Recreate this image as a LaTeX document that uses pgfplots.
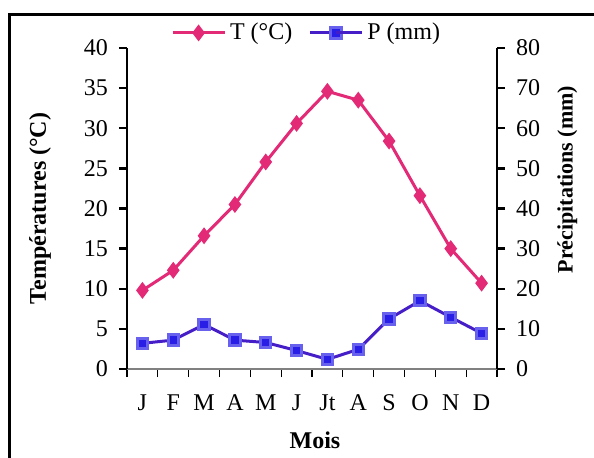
\documentclass[border=0pt]{standalone}
\usepackage{pgfplots}
\pgfplotsset{compat=1.18}
\usepackage{fontspec}
\setmainfont{Liberation Serif}
\definecolor{tcol}{RGB}{226,42,118}
\definecolor{pcol}{RGB}{70,30,200}
\definecolor{pmark}{RGB}{40,30,230}
\pgfplotstableread{
m T P
1 9.8 6.4
2 12.3 7.2
3 16.6 11.1
4 20.5 7.2
5 25.8 6.6
6 30.6 4.6
7 34.6 2.4
8 33.5 4.9
9 28.4 12.5
10 21.6 17.0
11 15.0 12.9
12 10.7 8.9
}\data
\begin{document}
\begin{tikzpicture}
\useasboundingbox (0,0) rectangle (297pt,228.5pt);
\draw[line width=1.5pt] (4.8pt,-2pt) -- (4.8pt,221.5pt) -- (300pt,221.5pt);
\pgfplotsset{
  every axis/.append style={
    at={(63.5pt,44pt)}, anchor=south west,
    scale only axis, width=185pt, height=160.5pt,
    xmin=0.5, xmax=12.5,
    /pgf/number format/assume math mode=true,
    tick label style={font=\fontsize{12}{14}\selectfont},
    label style={font=\fontsize{12}{14}\selectfont\bfseries},
  }
}
\begin{axis}[
  axis y line*=left, axis x line*=bottom,
  ymin=0, ymax=40, ytick={0,5,...,40},
  y axis line style={line width=1.2pt, black, -},
  x axis line style={gray, line width=0.6pt, -},
  xtick={0.5,1.5,...,12.5},
  xticklabels={J,F,M,A,M,J,Jt,A,S,O,N,D},
  x tick label as interval,
  xtick style={black, line width=0.6pt},
  ytick style={black, line width=1.2pt},
  tick align=outside, major tick length=4pt,
  xticklabel style={yshift=-5.5pt},
  yticklabel style={xshift=-2pt},
  ylabel={Températures (°C)},
  ylabel style={at={(axis description cs:-0.235,0.5)}, anchor=center, rotate=0},
  xlabel={Mois},
  xlabel style={at={(axis description cs:0.508,-0.221)}, anchor=center},
]
\addplot[color=tcol, line width=1.5pt, mark=diamond*, mark size=3pt, mark options={fill=tcol}] table[x=m, y=T] {\data};
\end{axis}
\begin{axis}[
  axis y line*=right, axis x line=none,
  ymin=0, ymax=80, ytick={0,10,...,80},
  y axis line style={line width=1.2pt, black, -},
  ytick style={black, line width=1.2pt},
  tick align=outside, major tick length=4pt,
  yticklabel style={xshift=2pt},
  ylabel={Précipitations (mm)},
  ylabel style={at={(axis description cs:1.19,0.59)}, anchor=center, font=\fontsize{11}{13}\selectfont\bfseries},
  legend style={at={(axis description cs:0.488,1.047)}, anchor=center, draw=none, fill=none,
    legend columns=2, font=\fontsize{12}{14}\selectfont,
    /tikz/every even column/.append style={column sep=6pt}},
  legend image code/.code={\draw[#1] (0pt,0pt) -- (13pt,0pt); \draw[#1, mark repeat=2, mark phase=1] plot coordinates {(13pt,0pt)}; \draw[#1] (13pt,0pt) -- (26pt,0pt);},
]
\addlegendimage{color=tcol, line width=1.5pt, mark=diamond*, mark size=3pt, mark options={fill=tcol}}
\addlegendentry{T (°C)}
\addplot[color=pcol, line width=1.5pt, mark=square*, mark size=2.6pt, mark options={fill=pmark, draw=pmark!70!white}] table[x=m, y=P] {\data};
\addlegendentry{P (mm)}
\end{axis}
\end{tikzpicture}
\end{document}
